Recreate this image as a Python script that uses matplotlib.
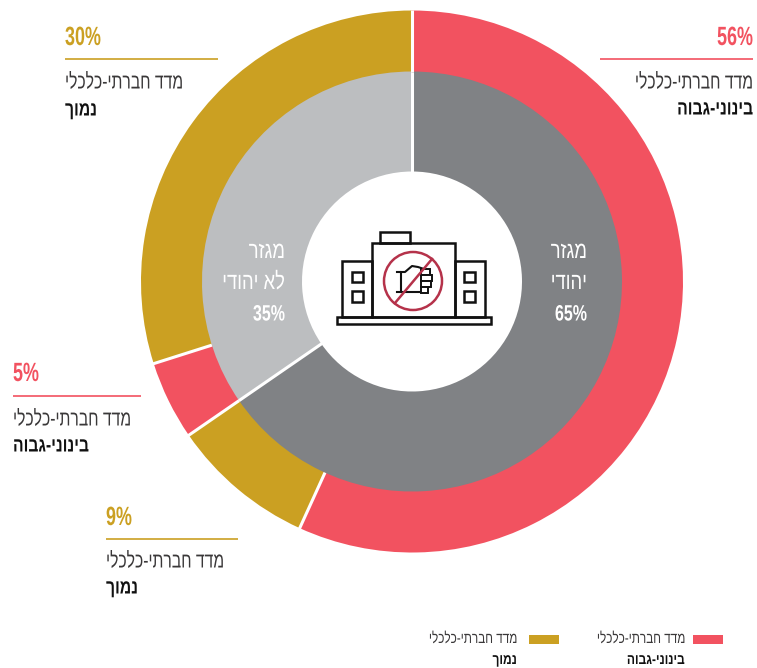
import numpy as np
import matplotlib
matplotlib.use("Agg")
import matplotlib.pyplot as plt
from matplotlib.patches import Rectangle, Circle
from matplotlib.patheffects import AbstractPathEffect
from matplotlib.transforms import Affine2D

plt.rcParams['font.family'] = ['Liberation Sans', 'DejaVu Sans']

W, H = 757, 668

# clockwise from 12 o'clock; drawn slices, they run a bit off the printed labels
outer_labels = [56, 9, 5, 30]
outer_shares = [56.8, 8.6, 4.7, 29.9]
inner_labels = [65, 35]
inner_shares = [65.4, 34.6]
inner_names = [["מגזר", "יהודי"], ["מגזר", "לא יהודי"]]
index_label = "מדד חברתי-כלכלי"
level_high = "בינוני-גבוה"
level_low = "נמוך"

RED = "#F25260"
GOLD = "#CBA022"
DARK = "#808285"
LIGHT = "#BCBEC0"
INK = "#3A3839"
BOLD_INK = "#111111"
outer_colors = [RED, GOLD, RED, GOLD]
inner_colors = [DARK, LIGHT]


class Condense(AbstractPathEffect):
    # no condensed Hebrew font installed, so squeeze the glyphs around the text anchor
    def __init__(self, anchor, sx):
        super().__init__()
        self.anchor = anchor
        self.sx = sx

    def draw_path(self, renderer, gc, tpath, affine, rgbFace=None):
        squeeze = Affine2D().translate(-self.anchor, 0).scale(self.sx, 1).translate(self.anchor, 0)
        renderer.draw_path(gc, tpath, affine + squeeze, rgbFace)


def heb(s):
    # matplotlib has no bidi, so lay the words out in visual order
    return s[::-1]


def Y(py):
    return H - py


def label(x, py, s, color, size, sx, ha="right", weight="normal"):
    ax.text(x, Y(py), s, color=color, fontsize=size, ha=ha, va="center", weight=weight,
            path_effects=[Condense(x, sx)])


fig = plt.figure(figsize=(W / 100, H / 100), dpi=100)
ax = fig.add_axes([0, 0, 1, 1])

# --- rings ---
cx, cy = 412, Y(281.5)
R_OUT, R_MID, R_HOLE = 271, 210, 110
ax.pie(outer_shares, colors=outer_colors, startangle=90, counterclock=False,
       center=(cx, cy), radius=R_OUT, frame=True,
       wedgeprops=dict(width=R_OUT - R_MID + 2, linewidth=0))
ax.pie(inner_shares, colors=inner_colors, startangle=90, counterclock=False,
       center=(cx, cy), radius=R_MID, frame=True,
       wedgeprops=dict(width=R_MID - R_HOLE, linewidth=0))


def separators(shares, r0, r1):
    for c in np.cumsum(shares):
        a = np.pi / 2 - 2 * np.pi * c / 100
        ax.plot([cx + r0 * np.cos(a), cx + r1 * np.cos(a)], [cy + r0 * np.sin(a), cy + r1 * np.sin(a)],
                color="white", lw=2.2, solid_capstyle="butt", zorder=3)


separators(outer_shares, R_MID, R_OUT + 1)
separators(inner_shares, R_HOLE - 1, R_MID)

ax.set_xlim(0, W)
ax.set_ylim(0, H)
ax.set_aspect("equal")
ax.axis("off")

# --- text inside the inner ring ---
for x, names, pct in zip((587, 285), inner_names, inner_labels):
    label(x, 252, heb(names[0]), "white", 17, 0.78)
    label(x, 283, heb(names[1]), "white", 17, 0.78)
    label(x, 315, f"{pct}%", "white", 16, 0.72, weight="bold")


# --- callouts around the ring ---
def callout(pct, color, level, x0, x1, y_pct, y_line, y_idx, y_lvl, right=False):
    ax.plot([x0, x1], [Y(y_line)] * 2, color=color, lw=1.2, solid_capstyle="butt")
    xt = x1 if right else x0
    ha = "right" if right else "left"
    label(xt, y_pct, f"{pct}%", color, 19, 0.68, ha, "bold")
    label(xt, y_idx, heb(index_label), INK, 15.5, 0.73, ha)
    label(xt, y_lvl, heb(level), BOLD_INK, 14.5, 0.78, ha, "bold")


callout(outer_labels[0], RED, level_high, 600, 753, 38, 59, 83, 109, right=True)
callout(outer_labels[1], GOLD, level_low, 106, 238, 518, 539, 562, 588)
callout(outer_labels[2], RED, level_high, 13, 141, 374, 396, 420, 446)
callout(outer_labels[3], GOLD, level_low, 65, 218, 38, 59, 83, 110)

# --- legend ---
for sw_x, text_x, color, level in ((693, 685, RED, level_high), (529, 517, GOLD, level_low)):
    ax.add_patch(Rectangle((sw_x, Y(644)), 30, 9, color=color, lw=0))
    label(text_x, 639, heb(index_label), INK, 11, 0.77)
    label(text_x, 660, heb(level), BOLD_INK, 10.5, 0.82, weight="bold")


# --- centre icon ---
def box(px0, py0, px1, py1, lw=1.8):
    ax.add_patch(Rectangle((px0, Y(py1)), px1 - px0, py1 - py0, fill=False, ec=BOLD_INK, lw=lw, zorder=5))


box(380, 232, 410, 243)
box(372, 243, 455, 317)
box(342, 261, 372, 317)
box(455, 261, 485, 317)
box(337, 317, 491, 324)
for px in (352, 464):
    box(px, 272, px + 11, 282)
    box(px, 291, px + 11, 302)

# fist
fist_x = [397, 401, 401, 397]
fist_y = [272, 272, 292, 292]
ax.plot(fist_x, [Y(v) for v in fist_y], color=BOLD_INK, lw=1.5, zorder=6)
hand_x = [401, 405, 412, 418, 424]
hand_y = [272, 272, 266, 267, 269]
ax.plot(hand_x, [Y(v) for v in hand_y], color=BOLD_INK, lw=1.5, zorder=6)
ax.plot([401, 422], [Y(292), Y(292)], color=BOLD_INK, lw=1.5, zorder=6)
for py, px1 in ((269, 430), (275, 432), (281, 431), (287, 428)):
    ax.add_patch(Rectangle((421, Y(py + 5.5)), px1 - 421, 5.5, fc="white", ec=BOLD_INK, lw=1.4, zorder=6))

ax.add_patch(Circle((413, Y(281)), 29, fill=False, ec="#B5324A", lw=1.8, zorder=7))
ax.plot([395, 432], [Y(303), Y(259)], color="#B5324A", lw=1.8, zorder=7)

fig.savefig("out.png", dpi=100)
